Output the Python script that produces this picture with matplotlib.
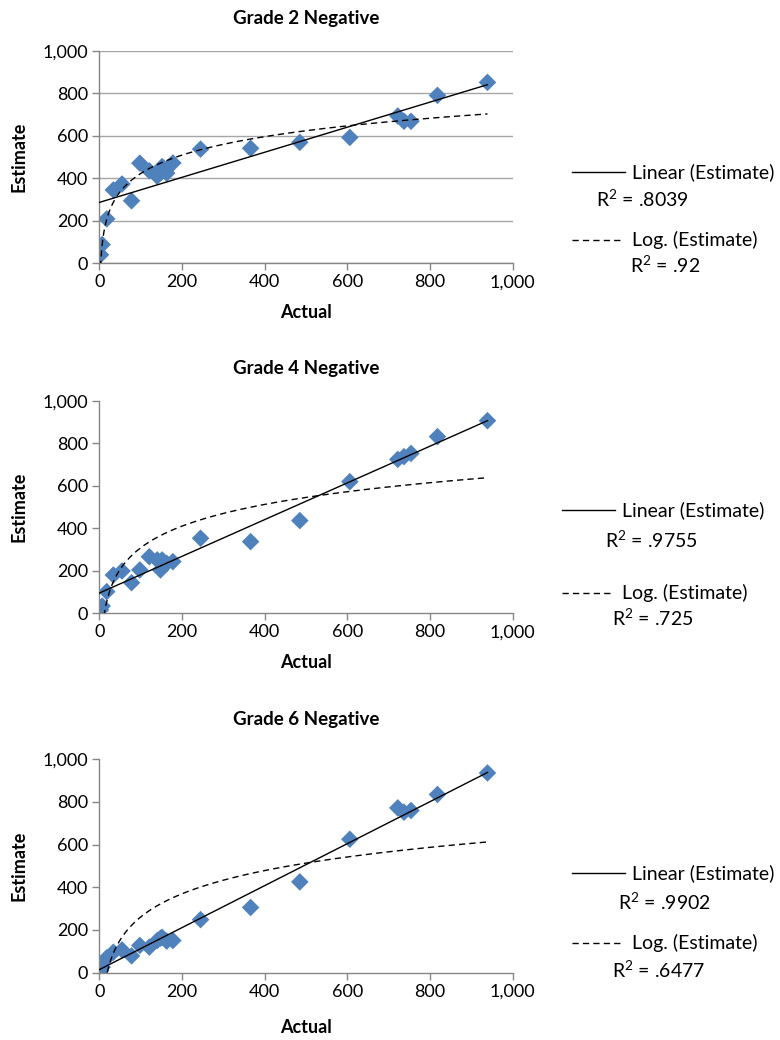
import numpy as np
import matplotlib
matplotlib.use("Agg")
import matplotlib.pyplot as plt
from matplotlib.ticker import FuncFormatter, MultipleLocator

plt.rcParams['font.family'] = ['Lato', 'DejaVu Sans']
plt.rcParams['mathtext.fontset'] = 'custom'
plt.rcParams['mathtext.rm'] = 'Lato'
plt.rcParams['mathtext.default'] = 'regular'

# ---- data ----
actual = [3, 7, 18, 34, 55, 78, 98, 121, 140, 148, 152, 163, 178, 245, 366, 485, 606, 722, 737, 754, 818, 939]

grade2_est = [40, 88, 209, 345, 373, 294, 471, 435, 410, 425, 455, 424, 472, 537, 541, 569, 592, 693, 668, 668, 790, 851]
grade4_est = [16, 34, 102, 180, 199, 144, 204, 266, 251, 204, 251, 235, 243, 353, 337, 436, 619, 724, 737, 752, 831, 906]
grade6_est = [9, 25, 69, 95, 106, 78, 127, 119, 150, 161, 165, 147, 150, 248, 305, 425, 625, 772, 752, 760, 835, 936]

titles = ["Grade 2 Negative", "Grade 4 Negative", "Grade 6 Negative"]
linear_r2 = [".8039", ".9755", ".9902"]
log_r2 = [".92", ".725", ".6477"]
series = [grade2_est, grade4_est, grade6_est]
gridlines = [True, False, False]

W, H = 780, 1040
fig = plt.figure(figsize=(W / 100, H / 100), dpi=100)

# axes boxes in pixels: (left, top(1000), right, bottom(0))
boxes = [(99.3, 50.7, 512.7, 263.3),
         (99.3, 400.7, 512.7, 613.3),
         (99.3, 759.3, 512.7, 972.5)]
title_pads = [19, 19, 25]
xlabel_pads = [10, 10, 14]

# legend positions in pixels
leg = [
    dict(lin_line=(572, 625, 172), lin_text=(632, 172), lin_r2=(596, 199),
         log_line=(572, 620, 240), log_text=(632, 240), log_r2=(630, 265)),
    dict(lin_line=(562, 615, 510), lin_text=(622, 510), lin_r2=(605, 540),
         log_line=(562, 610, 593), log_text=(622, 593), log_r2=(612, 618)),
    dict(lin_line=(572, 625, 873), lin_text=(632, 873), lin_r2=(618, 902),
         log_line=(572, 620, 943), log_text=(632, 943), log_r2=(612, 970)),
]

def fx(x):
    return x / W

def fy(y):
    return 1 - y / H

fmt = FuncFormatter(lambda v, p: f"{int(v):,}")
axis_col = '#868686'
grid_col = '#a6a6a6'
marker_col = '#4F81BD'
fs = 13
fs_title = 13.5
fs_leg = 14
dash = (0, (4.5, 3))

x = np.array(actual, dtype=float)
for i, (est, box, lg) in enumerate(zip(series, boxes, leg)):
    l, t, r, b = box
    ax = fig.add_axes([fx(l), fy(b), (r - l) / W, (b - t) / H])
    y = np.array(est, dtype=float)

    # trend lines
    m, c = np.polyfit(x, y, 1)
    xs = np.array([0, x.max()])
    ax.plot(xs, m * xs + c, color='black', lw=1.0, zorder=3)
    a, bb = np.polyfit(np.log(x), y, 1)
    xl = np.linspace(x.min(), x.max(), 800)
    ax.plot(xl, a * np.log(xl) + bb, color='black', lw=1.0, ls=dash, zorder=3)

    ax.scatter(x, y, marker='D', s=80, color=marker_col, edgecolors='none', zorder=2)

    ax.set_xlim(0, 1000)
    ax.set_ylim(0, 1000)
    ax.xaxis.set_major_locator(MultipleLocator(200))
    ax.yaxis.set_major_locator(MultipleLocator(200))
    ax.xaxis.set_major_formatter(fmt)
    ax.yaxis.set_major_formatter(fmt)
    for s in ['top', 'right']:
        ax.spines[s].set_visible(False)
    for s in ['left', 'bottom']:
        ax.spines[s].set_color(axis_col)
        ax.spines[s].set_linewidth(1.0)
    ax.tick_params(axis='both', colors=axis_col, length=5, width=1.0,
                   labelsize=fs, labelcolor='black')
    ax.tick_params(axis='x', pad=3)
    ax.tick_params(axis='y', pad=3)
    if gridlines[i]:
        ax.yaxis.grid(True, color=grid_col, lw=1.0)
        ax.set_axisbelow(True)
    ax.set_xlabel("Actual", fontsize=fs, fontweight='bold', labelpad=xlabel_pads[i])
    ax.set_ylabel("Estimate", fontsize=fs, fontweight='bold', labelpad=11)
    ax.set_title(titles[i], fontsize=fs_title, fontweight='bold', pad=title_pads[i])

    # legend-like annotation
    x0, x1, yy = lg['lin_line']
    fig.add_artist(plt.Line2D([fx(x0), fx(x1)], [fy(yy), fy(yy)], color='black', lw=1.0))
    fig.text(fx(lg['lin_text'][0]), fy(lg['lin_text'][1]), "Linear (Estimate)",
             fontsize=fs_leg, va='center', ha='left')
    fig.text(fx(lg['lin_r2'][0]), fy(lg['lin_r2'][1]), f"R$^{{2}}$ = {linear_r2[i]}",
             fontsize=fs_leg, va='center', ha='left')
    x0, x1, yy = lg['log_line']
    fig.add_artist(plt.Line2D([fx(x0), fx(x1)], [fy(yy), fy(yy)], color='black', lw=1.0,
                              ls=dash))
    fig.text(fx(lg['log_text'][0]), fy(lg['log_text'][1]), "Log. (Estimate)",
             fontsize=fs_leg, va='center', ha='left')
    fig.text(fx(lg['log_r2'][0]), fy(lg['log_r2'][1]), f"R$^{{2}}$ = {log_r2[i]}",
             fontsize=fs_leg, va='center', ha='left')

fig.savefig("out.png", dpi=100)
